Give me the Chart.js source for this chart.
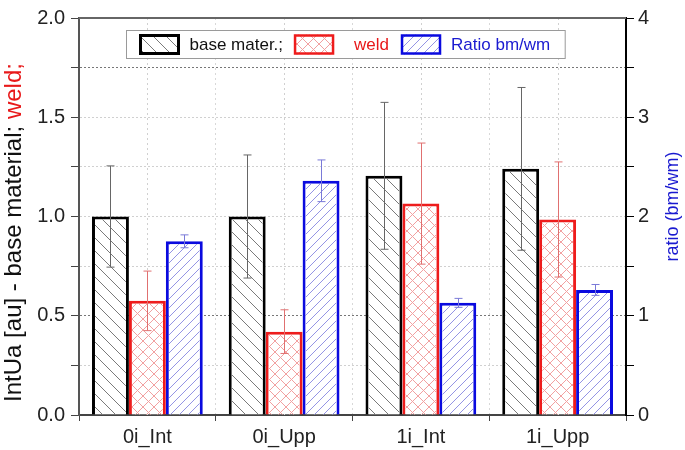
<!DOCTYPE html>
<html>
<head>
<meta charset="utf-8">
<script src="https://cdn.jsdelivr.net/npm/chart.js@4.4.1/dist/chart.umd.min.js"></script>
<style>
  html, body { margin: 0; padding: 0; background: #fff; }
  #wrap { width: 685px; height: 450px; }
</style>
</head>
<body>
<div id="wrap"><canvas id="grafico"></canvas></div>
<script>
// DADOS
const categorias = ["0i_Int", "0i_Upp", "1i_Int", "1i_Upp"];
const baseMat = [1.0, 1.0, 1.205, 1.24];
const baseErr = [0.255, 0.31, 0.37, 0.41];
const weld = [0.575, 0.42, 1.065, 0.985];
const weldErr = [0.15, 0.11, 0.305, 0.29];
const ratio = [1.75, 2.36, 1.13, 1.26];
const ratioErr = [0.065, 0.21, 0.045, 0.055];
const legendas = ["base mater.;", "weld", "Ratio bm/wm"];

const FONTE = '"Liberation Sans", Arial, sans-serif';
const erros = [baseErr, weldErr, ratioErr];
const coresErro = ["#666666", "#e07070", "#7a7ad8"];
const coresBorda = ["#000000", "#ee1c1c", "#0a0adf"];
const coresTexto = ["#111111", "#e8191a", "#1a1ad0"];
// hachura de cada série: desce "\", sobe "/", cor, passo
const hachuras = [
  { desce: true, sobe: false, cor: "#7a7a7a", passo: 13 },
  { desce: true, sobe: true, cor: "#f2a0a0", passo: 11 },
  { desce: false, sobe: true, cor: "#9494e4", passo: 9 }
];

// desenha hachura dentro de um retângulo
function hachurar(ctx, x0, y0, x1, y1, h) {
  ctx.save();
  ctx.beginPath();
  ctx.rect(x0, y0, x1 - x0, y1 - y0);
  ctx.clip();
  ctx.strokeStyle = h.cor;
  ctx.lineWidth = 1;
  ctx.beginPath();
  const s = h.passo;
  if (h.desce) {
    // linhas y - x = c
    for (let c = Math.floor((y0 - x1) / s) * s; c <= y1 - x0; c += s) {
      ctx.moveTo(x0, x0 + c);
      ctx.lineTo(x1, x1 + c);
    }
  }
  if (h.sobe) {
    // linhas y + x = c
    for (let c = Math.floor((y0 + x0) / s) * s; c <= y1 + x1; c += s) {
      ctx.moveTo(x0, c - x0);
      ctx.lineTo(x1, c - x1);
    }
  }
  ctx.stroke();
  ctx.restore();
}

// PLUGIN: grade extra, hachuras, barras de erro, legenda, títulos
const extras = {
  id: "extras",
  beforeDatasetsDraw(chart) {
    const { ctx, chartArea: a, scales } = chart;
    ctx.save();
    ctx.strokeStyle = "#d0d0d0";
    ctx.lineWidth = 1;
    ctx.setLineDash([2, 3]);
    categorias.forEach((c, i) => {
      const x = Math.round(scales.x.getPixelForValue(i)) + 0.5;
      ctx.beginPath();
      ctx.moveTo(x, a.top);
      ctx.lineTo(x, a.bottom);
      ctx.stroke();
    });
    ctx.setLineDash([]);
    ctx.strokeStyle = "#666";
    ctx.lineWidth = 2;
    ctx.beginPath();
    ctx.moveTo(a.left, a.top);
    ctx.lineTo(a.right, a.top);
    ctx.stroke();
    ctx.restore();
  },
  afterDatasetsDraw(chart) {
    const { ctx } = chart;
    // hachuras dentro das barras
    chart.data.datasets.forEach((ds, d) => {
      const meta = chart.getDatasetMeta(d);
      const bw = ds.borderWidth;
      meta.data.forEach(bar => {
        const p = bar.getProps(["x", "y", "base", "width"], true);
        const topo = Math.min(p.y, p.base);
        const fundo = Math.max(p.y, p.base);
        hachurar(ctx, p.x - p.width / 2 + bw, topo + bw, p.x + p.width / 2 - bw, fundo, hachuras[d]);
      });
    });
    // barras de erro
    ctx.save();
    chart.data.datasets.forEach((ds, d) => {
      const meta = chart.getDatasetMeta(d);
      const esc = chart.scales[meta.yAxisID];
      ctx.strokeStyle = coresErro[d];
      ctx.lineWidth = 1;
      meta.data.forEach((bar, i) => {
        const v = ds.data[i];
        const e = erros[d][i];
        const x = Math.round(bar.x) + 0.5;
        const yt = esc.getPixelForValue(v + e);
        const yb = esc.getPixelForValue(v - e);
        ctx.beginPath();
        ctx.moveTo(x, yt); ctx.lineTo(x, yb);
        ctx.moveTo(x - 4, yt); ctx.lineTo(x + 4, yt);
        ctx.moveTo(x - 4, yb); ctx.lineTo(x + 4, yb);
        ctx.stroke();
      });
    });
    ctx.restore();
  },
  afterDraw(chart) {
    const { ctx, chartArea: a } = chart;
    ctx.save();

    // legenda dentro da área
    ctx.font = "17px " + FONTE;
    ctx.textBaseline = "middle";
    ctx.textAlign = "left";
    const larg = legendas.map(t => ctx.measureText(t).width);
    const gapsAntes = [13, 11, 12];
    const gapsDepois = [10, 20, 10];
    let total = 15;
    legendas.forEach((t, i) => { total += gapsAntes[i] + 40 + gapsDepois[i] + larg[i]; });
    const bx = Math.round((a.left + a.right) / 2 - 7 - total / 2) + 0.5;
    const by = a.top + 12.5;
    const bh = 28;
    ctx.fillStyle = "#fff";
    ctx.fillRect(bx, by, total, bh);
    ctx.strokeStyle = "#9a9a9a";
    ctx.lineWidth = 1;
    ctx.strokeRect(bx, by, total, bh);
    let x = bx;
    legendas.forEach((t, i) => {
      x += gapsAntes[i];
      hachurar(ctx, x, by + 4, x + 40, by + 24, hachuras[i]);
      ctx.strokeStyle = coresBorda[i];
      ctx.lineWidth = i === 0 ? 3 : 2.5;
      ctx.strokeRect(x + 1, by + 5, 38, 18);
      x += 40 + gapsDepois[i];
      ctx.fillStyle = coresTexto[i];
      ctx.fillText(t, x, by + bh / 2 + 1);
      x += larg[i];
    });

    // título eixo esquerdo (duas cores)
    ctx.font = "24px " + FONTE;
    const p1 = "IntUa [au] - base material; ";
    const p2 = "weld;";
    const w1 = ctx.measureText(p1).width;
    const w2 = ctx.measureText(p2).width;
    ctx.translate(14, (a.top + a.bottom) / 2 + 16);
    ctx.rotate(-Math.PI / 2);
    ctx.fillStyle = "#111";
    ctx.fillText(p1, -(w1 + w2) / 2, 0);
    ctx.fillStyle = "#e8191a";
    ctx.fillText(p2, -(w1 + w2) / 2 + w1, 0);
    ctx.setTransform(1, 0, 0, 1, 0, 0);

    // título eixo direito
    ctx.font = "18px " + FONTE;
    ctx.textAlign = "center";
    ctx.translate(673, (a.top + a.bottom) / 2 - 10);
    ctx.rotate(-Math.PI / 2);
    ctx.fillStyle = "#1a1ad0";
    ctx.fillText("ratio (bm/wm)", 0, 0);
    ctx.restore();
  }
};

const ctx = document.getElementById("grafico").getContext("2d");

new Chart(ctx, {
  type: "bar",
  data: {
    labels: categorias,
    datasets: [
      { label: legendas[0], data: baseMat, yAxisID: "y", backgroundColor: "#fff", borderColor: coresBorda[0], borderWidth: 3 },
      { label: legendas[1], data: weld, yAxisID: "y", backgroundColor: "#fff", borderColor: coresBorda[1], borderWidth: 3 },
      { label: legendas[2], data: ratio, yAxisID: "y1", backgroundColor: "#fff", borderColor: coresBorda[2], borderWidth: 3 }
    ]
  },
  options: {
    responsive: true,
    maintainAspectRatio: false,
    animation: false,
    layout: { padding: { top: 15, left: 0, right: 0, bottom: 0 } },
    datasets: { bar: { categoryPercentage: 0.81, barPercentage: 1.0, borderSkipped: "bottom" } },
    plugins: { legend: { display: false }, tooltip: { enabled: false } },
    scales: {
      x: {
        offset: true,
        afterFit: s => { s.height = 35; },
        grid: { offset: true, color: "#d8d8d8", tickColor: "#444", tickLength: 6 },
        border: { color: "#444", width: 2, dash: [2, 3] },
        ticks: { color: "#222", font: { family: FONTE, size: 20 }, padding: 4, maxRotation: 0 }
      },
      y: {
        position: "left",
        min: 0,
        max: 2,
        afterFit: s => { s.width = 79; },
        grid: {
          color: c => {
            const v = c.tick ? c.tick.value : -1;
            if (v === 0 || v === 2) return "rgba(0,0,0,0)";
            if (v === 0.5 || v === 1.75) return "#777";
            return "#d0d0d0";
          },
          tickColor: "#444",
          tickLength: 8
        },
        border: { color: "#555", width: 2, dash: [2, 2] },
        ticks: {
          stepSize: 0.25,
          autoSkip: false,
          color: "#222",
          padding: 6,
          font: { family: FONTE, size: 20 },
          callback: v => (v % 0.5 === 0 ? v.toFixed(1) : "")
        }
      },
      y1: {
        position: "right",
        min: 0,
        max: 4,
        afterFit: s => { s.width = 59; },
        grid: { drawOnChartArea: false, tickColor: "#000", tickLength: 8 },
        border: { color: "#000", width: 2 },
        ticks: {
          stepSize: 0.5,
          autoSkip: false,
          color: "#222",
          padding: 4,
          font: { family: FONTE, size: 20 },
          callback: v => (v % 1 === 0 ? String(v) : "")
        }
      }
    }
  },
  plugins: [extras]
});
</script>
</body>
</html>
